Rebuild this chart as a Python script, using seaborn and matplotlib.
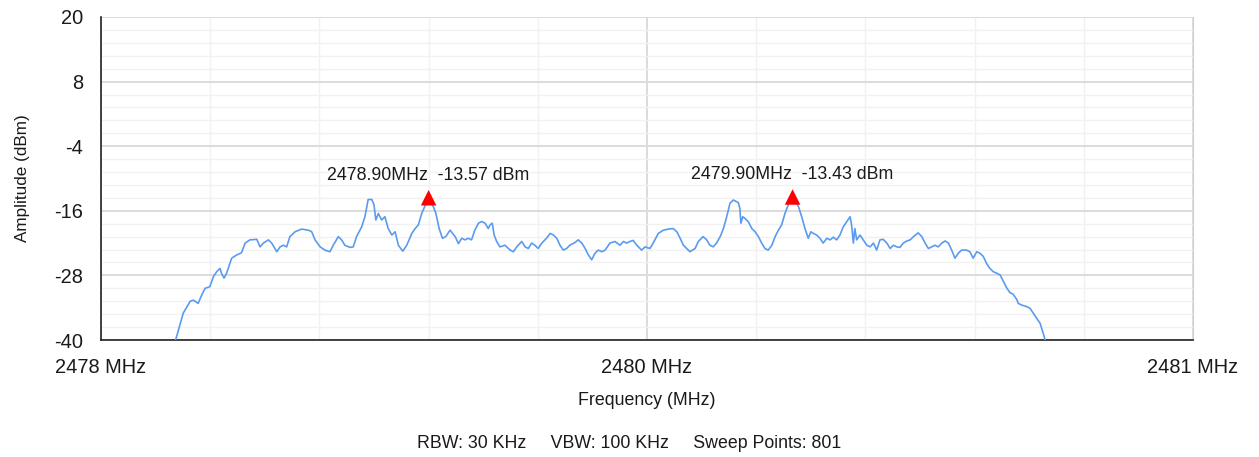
import numpy as np
import matplotlib
matplotlib.use("Agg")
import matplotlib.pyplot as plt
import seaborn as sns

# ---- spectrum trace (MHz, dBm) ----
freq_mhz = [
    2478.205, 2478.226, 2478.245, 2478.254, 2478.267, 2478.277, 2478.286, 2478.299,
    2478.309, 2478.318, 2478.327, 2478.331, 2478.338, 2478.345, 2478.359, 2478.373,
    2478.386, 2478.396, 2478.409, 2478.428, 2478.437, 2478.446, 2478.460, 2478.469,
    2478.483, 2478.492, 2478.501, 2478.510, 2478.519, 2478.533, 2478.551, 2478.570,
    2478.579, 2478.588, 2478.602, 2478.615, 2478.629, 2478.638, 2478.652, 2478.661,
    2478.670, 2478.684, 2478.693, 2478.702, 2478.716, 2478.725, 2478.734, 2478.744,
    2478.750, 2478.755, 2478.762, 2478.771, 2478.780, 2478.789, 2478.799, 2478.808,
    2478.817, 2478.829, 2478.840, 2478.854, 2478.863, 2478.872, 2478.881, 2478.890,
    2478.900, 2478.906, 2478.913, 2478.920, 2478.929, 2478.938, 2478.947,
    2478.959, 2478.973, 2478.982, 2478.991, 2479.000, 2479.009, 2479.018, 2479.027,
    2479.037, 2479.046, 2479.055, 2479.064, 2479.069, 2479.075, 2479.080, 2479.087,
    2479.096, 2479.110, 2479.124, 2479.133, 2479.142, 2479.156, 2479.165, 2479.174,
    2479.183, 2479.192, 2479.201, 2479.211, 2479.224, 2479.234, 2479.243, 2479.252,
    2479.261, 2479.270, 2479.279, 2479.288, 2479.302, 2479.311, 2479.321, 2479.330,
    2479.339, 2479.348, 2479.357, 2479.366, 2479.376, 2479.385, 2479.398, 2479.412,
    2479.426, 2479.435, 2479.444, 2479.453, 2479.462, 2479.472, 2479.485, 2479.495,
    2479.508, 2479.517, 2479.531, 2479.545, 2479.559, 2479.572, 2479.582, 2479.591,
    2479.600, 2479.609, 2479.618, 2479.632, 2479.641, 2479.654, 2479.664, 2479.673,
    2479.682, 2479.691, 2479.701, 2479.710, 2479.719, 2479.728, 2479.737, 2479.746,
    2479.751, 2479.755, 2479.758, 2479.763, 2479.769, 2479.778, 2479.788, 2479.797,
    2479.806, 2479.815, 2479.824, 2479.833, 2479.843, 2479.852, 2479.861, 2479.870,
    2479.879, 2479.888, 2479.900, 2479.916, 2479.925, 2479.934, 2479.943, 2479.950,
    2479.957, 2479.966, 2479.975, 2479.984, 2479.994, 2480.003, 2480.012, 2480.021,
    2480.030, 2480.039, 2480.049, 2480.058, 2480.062, 2480.067, 2480.071, 2480.076,
    2480.085, 2480.094, 2480.104, 2480.113, 2480.122, 2480.131, 2480.140, 2480.149,
    2480.159, 2480.168, 2480.177, 2480.186, 2480.195, 2480.204, 2480.214, 2480.223,
    2480.232, 2480.245, 2480.255, 2480.264, 2480.273, 2480.282, 2480.291, 2480.300,
    2480.310, 2480.319, 2480.328, 2480.337, 2480.346, 2480.355, 2480.364, 2480.378,
    2480.387, 2480.396, 2480.406, 2480.415, 2480.424, 2480.433, 2480.442, 2480.451,
    2480.461, 2480.470, 2480.479, 2480.488, 2480.497, 2480.506, 2480.516, 2480.520,
    2480.529, 2480.543, 2480.552, 2480.561, 2480.571, 2480.580, 2480.584, 2480.591,
    2480.594,
]
level_dbm = [
    -40.0, -35.0, -32.8, -32.6, -33.2, -31.6, -30.4, -30.1,
    -28.2, -27.3, -26.7, -27.6, -28.5, -27.6, -24.8, -24.2,
    -23.8, -22.0, -21.4, -21.3, -22.7, -22.0, -21.4, -22.0,
    -23.6, -22.7, -22.4, -22.7, -20.8, -19.9, -19.4, -19.6,
    -19.9, -21.4, -22.7, -23.3, -23.6, -22.4, -20.8, -21.4,
    -22.4, -22.8, -22.7, -20.8, -19.0, -17.1, -13.9, -13.9,
    -14.9, -17.7, -16.5, -17.7, -17.1, -19.3, -20.5, -19.9,
    -22.4, -23.5, -22.4, -20.2, -19.3, -18.6, -16.5, -15.1,
    -13.57, -14.6, -15.2, -16.5, -19.3, -21.1, -20.8,
    -19.6, -20.8, -22.1, -21.1, -21.4, -21.1, -21.4, -19.6,
    -18.3, -18.0, -18.3, -19.3, -18.6, -18.3, -20.5, -21.7,
    -22.7, -22.4, -23.3, -23.6, -22.7, -21.7, -22.7, -23.0,
    -22.0, -22.4, -23.0, -22.0, -21.1, -20.2, -20.5, -21.1,
    -22.4, -23.3, -23.0, -22.4, -21.9, -21.4, -22.0, -23.0,
    -24.2, -25.1, -23.9, -23.3, -23.6, -23.3, -22.0, -21.7,
    -22.4, -21.7, -22.0, -21.7, -21.5, -22.4, -23.3, -22.7,
    -23.0, -22.0, -20.2, -19.6, -19.4, -19.3, -19.9, -21.1,
    -22.4, -23.0, -23.6, -23.0, -21.7, -20.8, -21.4, -22.4,
    -22.7, -22.0, -20.8, -19.3, -17.1, -14.6, -14.0, -14.3,
    -14.5, -15.5, -18.3, -17.1, -17.4, -18.0, -19.3, -19.9,
    -20.8, -22.0, -23.0, -23.3, -22.4, -20.8, -19.6, -18.6,
    -16.5, -14.9, -13.43, -15.2, -17.1, -19.3, -21.1, -19.9,
    -20.2, -20.5, -21.1, -22.0, -21.1, -21.4, -20.9, -21.4,
    -20.5, -19.0, -18.0, -17.1, -18.6, -22.0, -19.3, -21.4,
    -20.5, -21.4, -22.4, -22.7, -22.0, -23.3, -21.4, -21.3,
    -22.0, -23.0, -22.4, -22.7, -22.8, -22.0, -21.6, -21.4,
    -20.8, -20.1, -20.8, -22.0, -23.0, -22.7, -22.4, -22.7,
    -22.0, -21.6, -22.0, -23.3, -24.8, -23.9, -23.3, -23.3,
    -23.6, -24.8, -23.6, -23.9, -24.5, -25.8, -26.7, -27.3,
    -27.6, -27.9, -29.1, -30.3, -31.2, -31.5, -32.5, -33.2,
    -33.5, -33.8, -34.1, -35.0, -36.0, -36.9, -37.8, -39.4,
    -40.0,
]

# peak markers
peak_freqs = [2478.90, 2479.90]
peak_levels = [-13.57, -13.43]

# axis ticks (the centre tick sits at mid-span, the analyzer labels it rounded)
x_ticks = [2478, 2479.5, 2481]
x_tick_labels = ["2478 MHz", "2480 MHz", "2481 MHz"]
y_ticks = [-40, -28, -16, -4, 8, 20]

footer = "RBW: 30 KHz     VBW: 100 KHz     Sweep Points: 801"

sns.set_style("white")
plt.rcParams["font.family"] = ["Liberation Sans", "DejaVu Sans"]
plt.rcParams["axes.unicode_minus"] = False

W, H = 1259, 457
fig = plt.figure(figsize=(W / 100, H / 100), dpi=100)
ax = fig.add_axes([101 / W, 1 - 340 / H, 1092 / W, 323 / H])

sns.lineplot(x=freq_mhz, y=level_dbm, color="#5b9bef", linewidth=1.2, ax=ax, zorder=3)
sns.scatterplot(x=peak_freqs, y=peak_levels, marker="^", s=125, color="#ff0000",
                edgecolor="none", ax=ax, zorder=4)

for f, lv in zip(peak_freqs, peak_levels):
    ax.annotate(f"{f:.2f}MHz  {lv:.2f} dBm", xy=(f, lv), xytext=(0, 13),
                textcoords="offset points", ha="center", va="baseline",
                fontsize=12.8, color="#1a1a1a")

# ---- axes / grid ----
ax.set_xlim(2478, 2481)
ax.set_ylim(-40, 20)
ax.set_xticks(x_ticks)
ax.set_xticklabels(x_tick_labels)
ax.set_yticks(y_ticks)
ax.set_xticks(np.arange(2478, 2481.01, 0.3), minor=True)
ax.set_yticks(np.arange(-40, 20.01, 2.4), minor=True)

ax.set_axisbelow(True)
ax.grid(which="minor", color="#f1f1f1", linewidth=1.0)
ax.grid(which="major", color="#dcdcdc", linewidth=1.4)

ax.tick_params(axis="y", which="major", length=9.5, width=1.2, pad=3.5,
               labelsize=14.4, color="#222222", labelcolor="#1a1a1a")
ax.tick_params(axis="x", which="major", length=4, width=1.2, pad=9,
               labelsize=14.4, color="#222222", labelcolor="#1a1a1a")
ax.tick_params(which="minor", length=0)

for side in ["left", "bottom"]:
    ax.spines[side].set_color("#222222")
    ax.spines[side].set_linewidth(1.2)
ax.spines["top"].set_visible(False)
ax.spines["right"].set_color("#d0d0d0")

ax.set_xlabel("Frequency (MHz)", fontsize=12.8, labelpad=11, color="#1a1a1a")
ax.set_ylabel("Amplitude (dBm)", fontsize=12.3, labelpad=17, color="#1a1a1a")

fig.text(0.5, 1 - 443.5 / H, footer, ha="center", va="center",
         fontsize=12.8, color="#1a1a1a")

fig.savefig("out.png", dpi=100)
